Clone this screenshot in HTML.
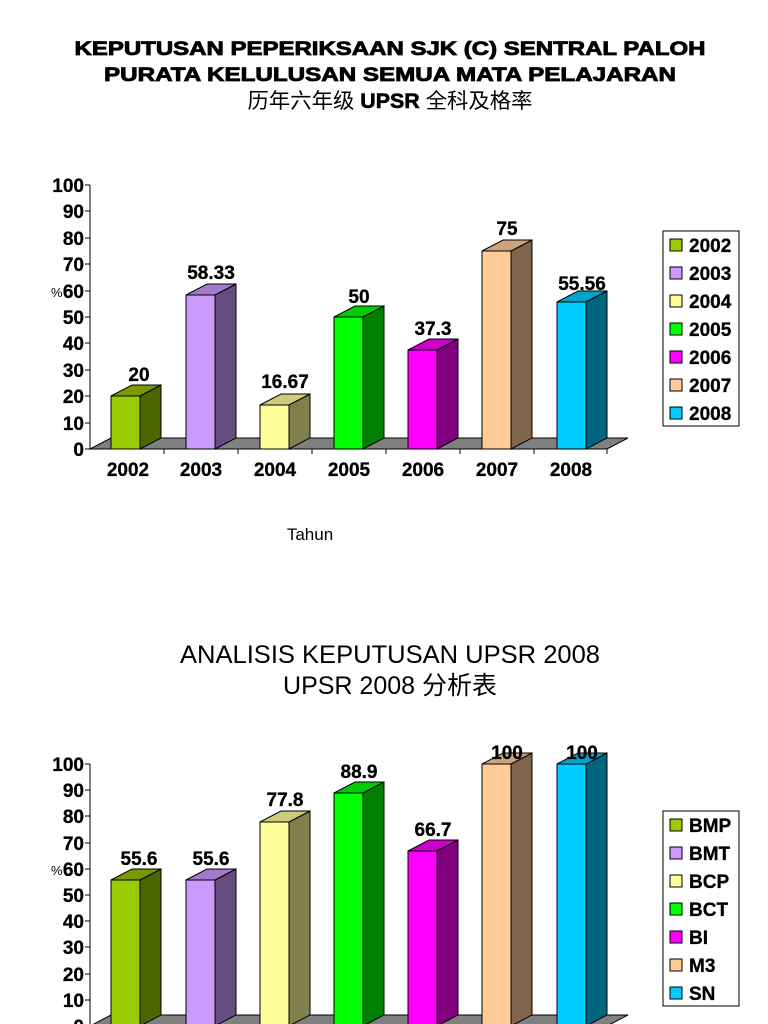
<!DOCTYPE html>
<html><head><meta charset="utf-8"><style>
html,body{margin:0;padding:0;background:#fff;width:768px;height:1024px;overflow:hidden}
svg{display:block}
text{font-family:"Liberation Sans","Noto Sans CJK SC",sans-serif}
.t{font-weight:bold;font-size:19px;stroke:#000;stroke-width:0.8}
.ax{font-weight:bold;font-size:19px;stroke:#000;stroke-width:0.3}
</style></head><body>
<svg width="768" height="1024" viewBox="0 0 768 1024" xmlns="http://www.w3.org/2000/svg">
<text x="390" y="55" text-anchor="middle" class="t" textLength="631" lengthAdjust="spacingAndGlyphs">KEPUTUSAN PEPERIKSAAN SJK (C) SENTRAL PALOH</text>
<text x="390" y="81" text-anchor="middle" class="t" textLength="572" lengthAdjust="spacingAndGlyphs">PURATA KELULUSAN SEMUA MATA PELAJARAN</text>
<text x="390" y="108" text-anchor="middle" font-size="21" textLength="285" lengthAdjust="spacingAndGlyphs">历年六年级 <tspan font-weight="bold" stroke="#000" stroke-width="0.6">UPSR</tspan> 全科及格率</text>

<!-- Chart 1 -->
<g stroke="#000" stroke-width="1">
<polygon points="90,449 111,438 628,438 607,449" fill="#808080"/>
<line x1="90" y1="185" x2="90" y2="449"/>
<line x1="90" y1="449" x2="607" y2="449"/>
<g>
<line x1="85" y1="185" x2="90" y2="185"/><line x1="85" y1="211" x2="90" y2="211"/><line x1="85" y1="238" x2="90" y2="238"/><line x1="85" y1="264" x2="90" y2="264"/><line x1="85" y1="291" x2="90" y2="291"/><line x1="85" y1="317" x2="90" y2="317"/><line x1="85" y1="343" x2="90" y2="343"/><line x1="85" y1="370" x2="90" y2="370"/><line x1="85" y1="396" x2="90" y2="396"/><line x1="85" y1="423" x2="90" y2="423"/><line x1="85" y1="449" x2="90" y2="449"/>
<line x1="164" y1="449" x2="164" y2="454"/><line x1="238" y1="449" x2="238" y2="454"/><line x1="312" y1="449" x2="312" y2="454"/><line x1="386" y1="449" x2="386" y2="454"/><line x1="460" y1="449" x2="460" y2="454"/><line x1="534" y1="449" x2="534" y2="454"/><line x1="607" y1="449" x2="607" y2="454"/>
</g>
<rect x="111" y="396" width="29" height="53" fill="#99cc00"/><polygon points="140,396 161,385 161,438 140,449" fill="#4d6600"/><polygon points="111,396 132,385 161,385 140,396" fill="#7a9900"/>
<rect x="186" y="295" width="29" height="154" fill="#cc99ff"/><polygon points="215,295 236,284 236,438 215,449" fill="#664d80"/><polygon points="186,295 207,284 236,284 215,295" fill="#a37acc"/>
<rect x="260" y="405" width="29" height="44" fill="#ffff99"/><polygon points="289,405 310,394 310,438 289,449" fill="#80804d"/><polygon points="260,405 281,394 310,394 289,405" fill="#cccc7a"/>
<rect x="334" y="317" width="29" height="132" fill="#00ff00"/><polygon points="363,317 384,306 384,438 363,449" fill="#008000"/><polygon points="334,317 355,306 384,306 363,317" fill="#00cc00"/>
<rect x="408" y="350" width="29" height="99" fill="#ff00ff"/><polygon points="437,350 458,339 458,438 437,449" fill="#800080"/><polygon points="408,350 429,339 458,339 437,350" fill="#cc00cc"/>
<rect x="482" y="251" width="29" height="198" fill="#ffcc99"/><polygon points="511,251 532,240 532,438 511,449" fill="#80664d"/><polygon points="482,251 503,240 532,240 511,251" fill="#cca37a"/>
<rect x="557" y="302" width="29" height="147" fill="#00ccff"/><polygon points="586,302 607,291 607,438 586,449" fill="#006680"/><polygon points="557,302 578,291 607,291 586,302" fill="#00a3cc"/>
<rect x="663" y="231" width="76" height="195" fill="#fff"/>
<rect x="670" y="239" width="12" height="12" fill="#99cc00"/><rect x="670" y="267" width="12" height="12" fill="#cc99ff"/><rect x="670" y="295" width="12" height="12" fill="#ffff99"/><rect x="670" y="323" width="12" height="12" fill="#00ff00"/><rect x="670" y="351" width="12" height="12" fill="#ff00ff"/><rect x="670" y="379" width="12" height="12" fill="#ffcc99"/><rect x="670" y="407" width="12" height="12" fill="#00ccff"/>
</g>
<g class="ax" text-anchor="end">
<text x="84" y="192">100</text><text x="84" y="218">90</text><text x="84" y="245">80</text><text x="84" y="271">70</text><text x="84" y="298">60</text><text x="84" y="324">50</text><text x="84" y="350">40</text><text x="84" y="377">30</text><text x="84" y="403">20</text><text x="84" y="430">10</text><text x="84" y="456">0</text>
</g>
<text x="51" y="297" font-size="13">%</text>
<g class="ax" text-anchor="middle">
<text x="128" y="476">2002</text><text x="201" y="476">2003</text><text x="275" y="476">2004</text><text x="349" y="476">2005</text><text x="423" y="476">2006</text><text x="497" y="476">2007</text><text x="571" y="476">2008</text>
<text x="139" y="381">20</text><text x="211" y="279">58.33</text><text x="285" y="388">16.67</text><text x="359" y="303">50</text><text x="433" y="335">37.3</text><text x="507" y="235">75</text><text x="582" y="290">55.56</text>
</g>
<g class="ax" font-size="18"><text x="689" y="252">2002</text><text x="689" y="280">2003</text><text x="689" y="308">2004</text><text x="689" y="336">2005</text><text x="689" y="364">2006</text><text x="689" y="392">2007</text><text x="689" y="420">2008</text></g>
<text x="310" y="540" text-anchor="middle" font-size="17">Tahun</text>

<!-- Chart 2 -->
<text x="390" y="663" text-anchor="middle" font-size="25" textLength="420" lengthAdjust="spacingAndGlyphs">ANALISIS KEPUTUSAN UPSR 2008</text>
<text x="390" y="694" text-anchor="middle" font-size="25">UPSR 2008  分析表</text>
<g stroke="#000" stroke-width="1">
<polygon points="90,1026 111,1015 628,1015 607,1026" fill="#808080"/>
<line x1="90" y1="764" x2="90" y2="1026"/>
<line x1="85" y1="764" x2="90" y2="764"/><line x1="85" y1="790" x2="90" y2="790"/><line x1="85" y1="816" x2="90" y2="816"/><line x1="85" y1="843" x2="90" y2="843"/><line x1="85" y1="869" x2="90" y2="869"/><line x1="85" y1="895" x2="90" y2="895"/><line x1="85" y1="921" x2="90" y2="921"/><line x1="85" y1="947" x2="90" y2="947"/><line x1="85" y1="974" x2="90" y2="974"/><line x1="85" y1="1000" x2="90" y2="1000"/>
<rect x="111" y="880" width="29" height="146" fill="#99cc00"/><polygon points="140,880 161,869 161,1015 140,1026" fill="#4d6600"/><polygon points="111,880 132,869 161,869 140,880" fill="#7a9900"/>
<rect x="186" y="880" width="29" height="146" fill="#cc99ff"/><polygon points="215,880 236,869 236,1015 215,1026" fill="#664d80"/><polygon points="186,880 207,869 236,869 215,880" fill="#a37acc"/>
<rect x="260" y="822" width="29" height="204" fill="#ffff99"/><polygon points="289,822 310,811 310,1015 289,1026" fill="#80804d"/><polygon points="260,822 281,811 310,811 289,822" fill="#cccc7a"/>
<rect x="334" y="793" width="29" height="233" fill="#00ff00"/><polygon points="363,793 384,782 384,1015 363,1026" fill="#008000"/><polygon points="334,793 355,782 384,782 363,793" fill="#00cc00"/>
<rect x="408" y="851" width="29" height="175" fill="#ff00ff"/><polygon points="437,851 458,840 458,1015 437,1026" fill="#800080"/><polygon points="408,851 429,840 458,840 437,851" fill="#cc00cc"/>
<rect x="482" y="764" width="29" height="262" fill="#ffcc99"/><polygon points="511,764 532,753 532,1015 511,1026" fill="#80664d"/><polygon points="482,764 503,753 532,753 511,764" fill="#cca37a"/>
<rect x="557" y="764" width="29" height="262" fill="#00ccff"/><polygon points="586,764 607,753 607,1015 586,1026" fill="#006680"/><polygon points="557,764 578,753 607,753 586,764" fill="#00a3cc"/>
<rect x="663" y="811" width="76" height="195" fill="#fff"/>
<rect x="670" y="819" width="12" height="12" fill="#99cc00"/><rect x="670" y="847" width="12" height="12" fill="#cc99ff"/><rect x="670" y="875" width="12" height="12" fill="#ffff99"/><rect x="670" y="903" width="12" height="12" fill="#00ff00"/><rect x="670" y="931" width="12" height="12" fill="#ff00ff"/><rect x="670" y="959" width="12" height="12" fill="#ffcc99"/><rect x="670" y="987" width="12" height="12" fill="#00ccff"/>
</g>
<g class="ax" text-anchor="end">
<text x="84" y="771">100</text><text x="84" y="797">90</text><text x="84" y="823">80</text><text x="84" y="850">70</text><text x="84" y="876">60</text><text x="84" y="902">50</text><text x="84" y="928">40</text><text x="84" y="954">30</text><text x="84" y="981">20</text><text x="84" y="1007">10</text><text x="84" y="1033">0</text>
</g>
<text x="51" y="875" font-size="13">%</text>
<g class="ax" text-anchor="middle">
<text x="139" y="865">55.6</text><text x="211" y="865">55.6</text><text x="285" y="806">77.8</text><text x="359" y="778">88.9</text><text x="433" y="836">66.7</text><text x="507" y="759">100</text><text x="582" y="759">100</text>
</g>
<g class="ax" font-size="18"><text x="689" y="832">BMP</text><text x="689" y="860">BMT</text><text x="689" y="888">BCP</text><text x="689" y="916">BCT</text><text x="689" y="944">BI</text><text x="689" y="972">M3</text><text x="689" y="1000">SN</text></g>
</svg>
</body></html>
